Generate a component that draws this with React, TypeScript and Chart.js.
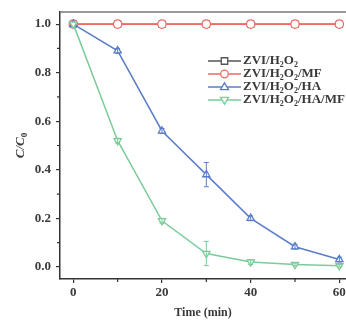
import React, { useEffect, useRef } from "react";
import { Chart, registerables } from "chart.js";
Chart.register(...registerables);

const times = [0, 10, 20, 30, 40, 50, 60];
const zviH2O2 = [1.0, 1.0, 1.0, 1.0, 1.0, 1.0, 1.0];
const zviH2O2MF = [1.0, 1.0, 1.0, 1.0, 1.0, 1.0, 1.0];
const zviH2O2HA = [1.0, 0.89, 0.56, 0.38, 0.2, 0.083, 0.03];
const zviH2O2HAMF = [1.0, 0.52, 0.19, 0.055, 0.02, 0.01, 0.005];
const errH2O2 = [0, 0, 0, 0, 0, 0, 0];
const errMF = [0, 0, 0, 0, 0, 0, 0];
const errHA = [0, 0.01, 0.01, 0.05, 0.01, 0.01, 0.01];
const errHAMF = [0, 0.01, 0.01, 0.05, 0.01, 0.005, 0.005];
const yTicks = [0, 0.2, 0.4, 0.6, 0.8, 1.0];
const yMinor = [0.1, 0.3, 0.5, 0.7, 0.9];
const xTicks = [0, 20, 40, 60];
const xMinor = [10, 30, 50];

const COLORS = ["#555555", "#ee6a62", "#5b7dc8", "#7ccb9a"];
const STYLES = ["rect", "circle", "triangle", "triangle"];
const ROTS = [0, 0, 0, 180];
// legend labels as [text, isSubscript] segments
const legendLabels: [string, boolean][][] = [
  [["ZVI/H", false], ["2", true], ["O", false], ["2", true]],
  [["ZVI/H", false], ["2", true], ["O", false], ["2", true], ["/MF", false]],
  [["ZVI/H", false], ["2", true], ["O", false], ["2", true], ["/HA", false]],
  [["ZVI/H", false], ["2", true], ["O", false], ["2", true], ["/HA/MF", false]],
];
const errors = [errH2O2, errMF, errHA, errHAMF];

const FONT = '"Liberation Serif", "Times New Roman", serif';
const TXT = "#3a3a3a";

function drawMarker(ctx: CanvasRenderingContext2D, idx: number, x: number, y: number, r: number) {
  ctx.save();
  ctx.fillStyle = "#ffffff";
  ctx.strokeStyle = COLORS[idx];
  ctx.lineWidth = 1.3;
  ctx.beginPath();
  if (STYLES[idx] === "rect") {
    const s = r * 0.85;
    ctx.rect(x - s, y - s, 2 * s, 2 * s);
  } else if (STYLES[idx] === "circle") {
    ctx.arc(x, y, r, 0, Math.PI * 2);
  } else {
    const dir = ROTS[idx] === 180 ? -1 : 1;
    ctx.moveTo(x, y - dir * r * 1.1);
    ctx.lineTo(x + r * 1.05, y + dir * r * 0.7);
    ctx.lineTo(x - r * 1.05, y + dir * r * 0.7);
    ctx.closePath();
  }
  ctx.fill();
  ctx.stroke();
  ctx.restore();
}

const extras = {
  id: "extras",
  afterDatasetsDraw(chart: any) {
    const { ctx, scales } = chart;
    const xs = scales.x;
    const ys = scales.y;
    chart.data.datasets.forEach((ds: any, i: number) => {
      const err = errors[i];
      ctx.save();
      ctx.strokeStyle = COLORS[i];
      ctx.lineWidth = 1;
      ds.data.forEach((p: any, j: number) => {
        const e = err[j];
        if (!e) return;
        const px = xs.getPixelForValue(p.x);
        const y1 = ys.getPixelForValue(p.y + e);
        const y2 = ys.getPixelForValue(p.y - e);
        ctx.beginPath();
        ctx.moveTo(px, y1);
        ctx.lineTo(px, y2);
        ctx.moveTo(px - 2.5, y1);
        ctx.lineTo(px + 2.5, y1);
        ctx.moveTo(px - 2.5, y2);
        ctx.lineTo(px + 2.5, y2);
        ctx.stroke();
      });
      ctx.restore();
    });
  },
  afterDraw(chart: any) {
    const { ctx, chartArea, scales } = chart;
    const xs = scales.x;
    const ys = scales.y;
    ctx.save();
    // top frame
    ctx.strokeStyle = "#777777";
    ctx.lineWidth = 1.5;
    ctx.beginPath();
    ctx.moveTo(chartArea.left, chartArea.top);
    ctx.lineTo(chartArea.right, chartArea.top);
    ctx.stroke();
    // minor ticks
    ctx.strokeStyle = "#333333";
    ctx.lineWidth = 1.2;
    ctx.beginPath();
    yMinor.forEach((v) => {
      const py = ys.getPixelForValue(v);
      ctx.moveTo(chartArea.left, py);
      ctx.lineTo(chartArea.left - 3, py);
    });
    xMinor.forEach((v) => {
      const px = xs.getPixelForValue(v);
      ctx.moveTo(px, chartArea.bottom);
      ctx.lineTo(px, chartArea.bottom + 3);
    });
    ctx.stroke();
    // y title C/C0
    ctx.save();
    ctx.translate(21, (chartArea.top + chartArea.bottom) / 2);
    ctx.rotate(-Math.PI / 2);
    ctx.fillStyle = TXT;
    ctx.textBaseline = "middle";
    ctx.font = `italic bold 13px ${FONT}`;
    const w1 = ctx.measureText("C/C").width;
    ctx.font = `bold 9px ${FONT}`;
    const w2 = ctx.measureText("0").width;
    const sx = -(w1 + w2) / 2;
    ctx.textAlign = "left";
    ctx.font = `italic bold 13px ${FONT}`;
    ctx.fillText("C/C", sx, 0);
    ctx.font = `bold 9px ${FONT}`;
    ctx.fillText("0", sx + w1, 3.5);
    ctx.restore();
    // legend
    const lx1 = 208, lx2 = 241, tx = 243;
    const rows = [61, 74, 87, 100];
    legendLabels.forEach((segs, i) => {
      const y = rows[i];
      ctx.strokeStyle = COLORS[i];
      ctx.lineWidth = 1.5;
      ctx.beginPath();
      ctx.moveTo(lx1, y);
      ctx.lineTo(lx2, y);
      ctx.stroke();
      drawMarker(ctx, i, (lx1 + lx2) / 2, y, 3.8);
      let x = tx;
      ctx.fillStyle = TXT;
      ctx.textAlign = "left";
      ctx.textBaseline = "middle";
      segs.forEach(([t, sub]) => {
        ctx.font = sub ? `bold 8px ${FONT}` : `bold 13px ${FONT}`;
        ctx.fillText(t, x, sub ? y + 3.5 : y);
        x += ctx.measureText(t).width;
      });
    });
    ctx.restore();
  },
};

export default function App() {
  const ref = useRef<HTMLCanvasElement>(null);
  useEffect(() => {
    document.body.style.margin = "0";
    const datasets = [zviH2O2, zviH2O2MF, zviH2O2HA, zviH2O2HAMF].map((arr, i) => ({
      label: "s" + i,
      data: arr.map((v, j) => ({ x: times[j], y: v })),
      borderColor: COLORS[i],
      backgroundColor: "#ffffff",
      borderWidth: 1.5,
      pointStyle: STYLES[i] as any,
      rotation: ROTS[i],
      pointRadius: 4.2,
      pointBorderWidth: 1.3,
      pointBackgroundColor: "#ffffff",
      pointBorderColor: COLORS[i],
      order: 4 - i,
      tension: 0,
      clip: false as any,
    }));
    const chart = new Chart(ref.current!, {
      type: "line",
      data: { datasets },
      plugins: [extras],
      options: {
        animation: false,
        responsive: false,
        layout: { autoPadding: false, padding: { top: 12, right: 0, left: 0, bottom: 0 } },
        plugins: { legend: { display: false }, tooltip: { enabled: false } },
        scales: {
          x: {
            type: "linear",
            min: -3,
            max: 61.5,
            afterBuildTicks: (s: any) => { s.ticks = xTicks.map((v) => ({ value: v })); },
            afterFit: (s: any) => { s.height = 45; s.paddingRight = 0; s.paddingLeft = 0; },
            grid: { drawOnChartArea: false, drawTicks: true, tickLength: 4, color: "#333333", lineWidth: 1.2 },
            border: { color: "#333333", width: 1.5 },
            ticks: { font: { family: FONT, size: 13, weight: "bold" }, color: TXT, padding: 2 },
            title: { display: true, text: "Time (min)", font: { family: FONT, size: 12, weight: "bold" }, color: TXT, padding: { top: 0, bottom: 4 } },
          },
          y: {
            type: "linear",
            min: -0.05,
            max: 1.05,
            afterBuildTicks: (s: any) => { s.ticks = yTicks.map((v) => ({ value: v })); },
            afterFit: (s: any) => { s.width = 60; s.paddingTop = 0; s.paddingBottom = 0; },
            grid: { drawOnChartArea: false, drawTicks: true, tickLength: 4, color: "#333333", lineWidth: 1.2 },
            border: { color: "#333333", width: 1.5 },
            ticks: { font: { family: FONT, size: 13, weight: "bold" }, color: TXT, padding: 5, callback: (v: any) => Number(v).toFixed(1) },
          },
        },
      },
    });
    return () => chart.destroy();
  }, []);
  return <canvas ref={ref} width={346} height={324} style={{ display: "block" }} />;
}
